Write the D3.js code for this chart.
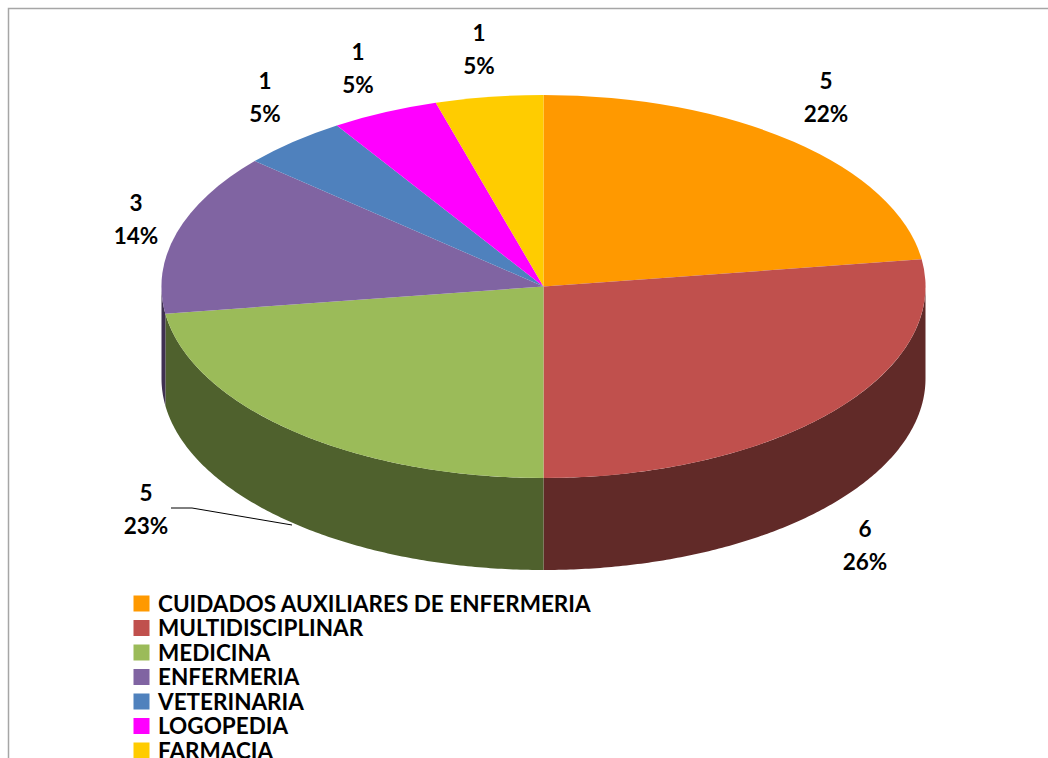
<!DOCTYPE html>
<html lang="es">
    <head>
        <meta charset="utf-8">
        <title>Pie 3D</title>
        <script type="text/javascript" src="https://cdn.jsdelivr.net/npm/d3@7/dist/d3.min.js"></script>
        <style>
        html,body{
            margin:0;
            padding:0;
            background-color:white;
            overflow:hidden;
        }
        svg{
            display:block;
        }
        text{
            font-family:Lato,"Open Sans",sans-serif;
            font-weight:700;
            fill:#000;
        }
        </style>
    </head>
    <body>
        <script type="text/javascript">
        var categories = ["CUIDADOS AUXILIARES DE ENFERMERIA","MULTIDISCIPLINAR","MEDICINA","ENFERMERIA","VETERINARIA","LOGOPEDIA","FARMACIA"];
        var values = [5,6,5,3,1,1,1];
        var percents = ["22%","26%","23%","14%","5%","5%","5%"];

        var topColors = ["#ff9900","#c0504d","#9bbb59","#8064a2","#4f81bd","#ff00ff","#ffcc00"];
        var sideColors = ["#995c00","#612a28","#4f612d","#403152","#284160","#800080","#806600"];

        //where the labels sit, same order as categories
        var labelPos = [[826,81],[865,529],[146,493],[136,203],[265,81],[358,52],[479,33]];

        var w = 1048;
        var h = 758;
        var cx = 543.5;
        var cy = 286.5;
        var rx = 382;
        var ry = 191.5;
        var depth = 92;

        var svg = d3.select("body")
                    .append("svg")
                    .attr("width", w)
                    .attr("height", h);

        //frame, cut by the right and bottom of the picture
        svg.append("path")
           .attr("d", "M8.5," + h + "V8.5H" + w)
           .attr("fill", "none")
           .attr("stroke", "#a6a6a6")
           .attr("stroke-width", 1.5);

        var slices = d3.pie().sort(null)(values);

        //angle 0 is the top of the pie, going clockwise
        var px = function(a){ return cx + rx*Math.sin(a); };
        var py = function(a){ return cy - ry*Math.cos(a); };

        var line = d3.line();

        function wallPath(d){
            //only the front half of the rim can be seen
            var a0 = Math.max(d.startAngle, Math.PI/2);
            var a1 = Math.min(d.endAngle, Math.PI*1.5);
            if(a1 <= a0){ return null; }
            var n = Math.ceil((a1-a0)/0.01);
            var angles = d3.range(n+1).map(function(i){ return a0 + (a1-a0)*i/n; });
            var upper = angles.map(function(a){ return [px(a), py(a)]; });
            var lower = angles.slice().reverse().map(function(a){ return [px(a), py(a)+depth]; });
            return line(upper.concat(lower)) + "Z";
        }

        svg.selectAll("path.wall")
           .data(slices)
           .enter()
           .append("path")
           .attr("class", "wall")
           .attr("d", wallPath)
           .attr("fill", function(d,i){ return sideColors[i]; });

        var arc = d3.arc().innerRadius(0).outerRadius(1);

        svg.append("g")
           .attr("transform", "translate(" + cx + "," + cy + ") scale(" + rx + "," + ry + ")")
           .selectAll("path")
           .data(slices)
           .enter()
           .append("path")
           .attr("d", arc)
           .attr("fill", function(d,i){ return topColors[i]; });

        //leader line of the MEDICINA label
        svg.append("path")
           .attr("d", line([[171,508],[192,508],[292,525]]))
           .attr("fill", "none")
           .attr("stroke", "#000")
           .attr("stroke-width", 1);

        var labels = svg.selectAll("g.label")
                        .data(values)
                        .enter()
                        .append("g")
                        .attr("class", "label")
                        .attr("text-anchor", "middle")
                        .attr("font-size", 22.5);

        labels.append("text")
              .attr("x", function(d,i){ return labelPos[i][0]; })
              .attr("y", function(d,i){ return labelPos[i][1]; })
              .attr("dy", "0.35em")
              .text(function(d){ return d; });

        labels.append("text")
              .attr("x", function(d,i){ return labelPos[i][0]; })
              .attr("y", function(d,i){ return labelPos[i][1] + 33.5; })
              .attr("dy", "0.35em")
              .text(function(d,i){ return percents[i]; });

        //legend
        var rowY = d3.scalePoint().domain(categories).range([604,751]);

        var rows = svg.selectAll("g.legend")
                      .data(categories)
                      .enter()
                      .append("g")
                      .attr("class", "legend");

        rows.append("rect")
            .attr("x", 133.5)
            .attr("y", function(d){ return rowY(d) - 8.5; })
            .attr("width", 16)
            .attr("height", 16)
            .attr("fill", function(d,i){ return topColors[i]; });

        rows.append("text")
            .attr("x", 158)
            .attr("y", function(d){ return rowY(d); })
            .attr("dy", "0.35em")
            .attr("font-size", 22.5)
            .text(function(d){ return d; });
        </script>
    </body>
</html>
